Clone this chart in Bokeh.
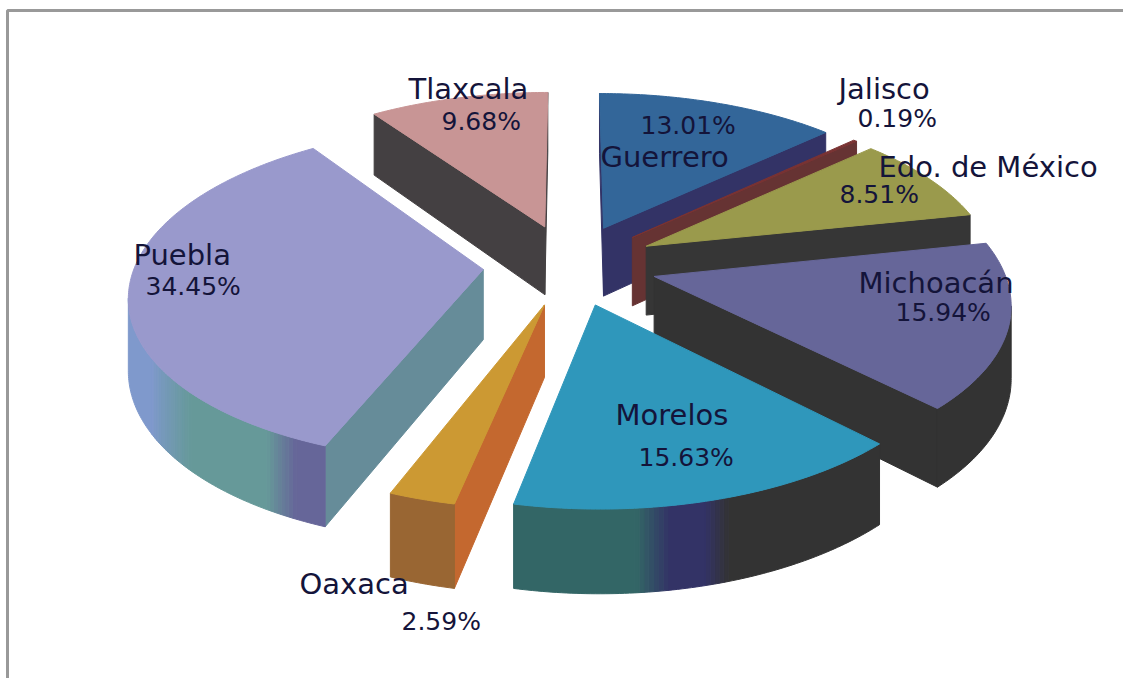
import numpy as np
from bokeh.plotting import figure
from bokeh.models import ColumnDataSource, Range1d
from bokeh.core.properties import value
from bokeh.embed import file_html
from bokeh.resources import INLINE

# ---- data, clockwise from 12 o'clock
categories = ["Guerrero", "Jalisco", "Edo. de México", "Michoacán", "Morelos", "Oaxaca", "Puebla", "Tlaxcala"]
shares = [13.01, 0.19, 8.51, 15.94, 15.63, 2.59, 34.45, 9.68]

# ---- styles
TOP = {"Guerrero": "#336699", "Jalisco": "#7A3333", "Edo. de México": "#9A9A4C", "Michoacán": "#666699",
       "Morelos": "#2F97BB", "Oaxaca": "#CC9933", "Puebla": "#9999CC", "Tlaxcala": "#C89595"}
RADIAL = {"Guerrero": "#333366", "Jalisco": "#663333", "Edo. de México": "#363636", "Michoacán": "#333333",
          "Morelos": "#333333", "Oaxaca": "#C4682F", "Puebla": "#668C99", "Tlaxcala": "#444042"}
# wall colours along the rim, in degrees clockwise from 12 o'clock
WALL = {"Guerrero": [(0, "#333366")], "Jalisco": [(0, "#663333")], "Edo. de México": [(0, "#333333")],
        "Michoacán": [(0, "#333333")],
        "Morelos": [(162, "#333333"), (165.5, "#333366"), (170.5, "#333366"), (175, "#336666")],
        "Oaxaca": [(0, "#996633")],
        "Puebla": [(206, "#666699"), (211, "#669999"), (227, "#669999"), (240, "#7F99CC")],
        "Tlaxcala": [(0, "#444042")]}
DRAW_ORDER = ["Tlaxcala", "Guerrero", "Jalisco", "Edo. de México", "Michoacán", "Puebla", "Oaxaca", "Morelos"]

# ---- projection of the exploded, tilted pie (perspective towards the viewer)
CX, CY, AX, BY, PERSP, EXPLODE, DEPTH = 569.5, 264.0, 348.0, 163.0, 0.14, 0.25, 70.0


def project(px, py, z=0.0):
    w = 1 + PERSP * py
    return CX + AX * px / w, CY + (-BY * py + DEPTH * z) / w


def hex_rgb(c):
    return np.array([int(c[i:i + 2], 16) for i in (1, 3, 5)], float)


def wall_colour(name, deg):
    stops = WALL[name]
    ts = [s[0] for s in stops]
    rgb = np.array([hex_rgb(s[1]) for s in stops])
    c = [int(round(np.interp(deg, ts, rgb[:, i]))) for i in range(3)]
    return "#%02x%02x%02x" % tuple(c)


def area(xs, ys):
    return sum(xs[i] * ys[(i + 1) % len(xs)] - xs[(i + 1) % len(xs)] * ys[i] for i in range(len(xs)))


total = sum(shares)
edges = np.concatenate([[0], np.cumsum(shares)]) / total * 360.0
span = {c: (edges[i], edges[i + 1]) for i, c in enumerate(categories)}

polys_x, polys_y, colours = [], [], []


def add(xs, ys, colour):
    polys_x.append(list(xs))
    polys_y.append(list(ys))
    colours.append(colour)


def quad(a, b):
    t0 = project(*a)
    t1 = project(*b)
    b1 = project(*b, 1)
    b0 = project(*a, 1)
    return [t0[0], t1[0], b1[0], b0[0]], [t0[1], t1[1], b1[1], b0[1]]


for name in DRAW_ORDER:
    a0, a1 = span[name]
    mid = np.radians((a0 + a1) / 2)
    ox, oy = EXPLODE * np.sin(mid), EXPLODE * np.cos(mid)
    degs = np.linspace(a0, a1, max(3, int((a1 - a0) * 1.5) + 2))
    rim = [(ox + np.sin(np.radians(d)), oy + np.cos(np.radians(d))) for d in degs]

    # radial faces
    qx, qy = quad((ox, oy), rim[0])
    if area(qx, qy) < 0:
        add(qx, qy, RADIAL[name])
    qx, qy = quad((ox, oy), rim[-1])
    if area(qx, qy) > 0:
        add(qx, qy, RADIAL[name])

    # rim wall: consecutive visible strips of one colour become one polygon
    run, run_colour = [], None

    def flush():
        if run:
            tops = [project(*r) for r in run]
            bots = [project(*r, 1) for r in reversed(run)]
            add([q[0] for q in tops + bots], [q[1] for q in tops + bots], run_colour)

    for i in range(len(rim) - 1):
        qx, qy = quad(rim[i], rim[i + 1])
        if area(qx, qy) < 0:
            col = wall_colour(name, (degs[i] + degs[i + 1]) / 2)
            if col != run_colour or not run:
                flush()
                run, run_colour = [rim[i]], col
            run.append(rim[i + 1])
        else:
            flush()
            run, run_colour = [], None
    flush()

    # top
    pts = [project(ox, oy)] + [project(*r) for r in rim]
    add([q[0] for q in pts], [q[1] for q in pts], TOP[name])

p = figure(width=1123, height=678, output_backend="svg", toolbar_location=None,
           x_range=Range1d(0, 1123), y_range=Range1d(678, 0), min_border=0,
           outline_line_color=None, background_fill_color="white", border_fill_color="white")
p.axis.visible = False
p.grid.visible = False
p.styles = {"position": "absolute", "left": "0px", "top": "0px"}

# frame of the chart area
p.line([7, 7, 1123], [678, 10, 10], line_color="#999999", line_width=3)

src = ColumnDataSource(dict(xs=polys_x, ys=polys_y, c=colours))
p.patches("xs", "ys", source=src, fill_color="c", line_color="c", line_width=1)

# ---- labels (left edge and vertical middle of each text)
NAME_POS = {"Tlaxcala": (408, 88), "Guerrero": (600, 156), "Jalisco": (838, 88), "Edo. de México": (878, 166),
            "Michoacán": (858, 282), "Puebla": (133, 254), "Morelos": (615, 414), "Oaxaca": (299, 583)}
PCT_POS = {"Tlaxcala": (441, 121), "Guerrero": (640, 125), "Jalisco": (857, 118), "Edo. de México": (839, 194),
           "Michoacán": (895, 312), "Puebla": (145, 286), "Morelos": (638, 457), "Oaxaca": (401, 621)}

p.text([NAME_POS[c][0] for c in categories], [NAME_POS[c][1] for c in categories], text=categories,
       text_font=value("DejaVu Sans"), text_font_size="29px", text_color="#14143a",
       text_align="left", text_baseline="middle")
p.text([PCT_POS[c][0] for c in categories], [PCT_POS[c][1] for c in categories],
       text=["%.2f%%" % s for s in shares],
       text_font=value("DejaVu Sans"), text_font_size="25px", text_color="#14143a",
       text_align="left", text_baseline="middle")

open("out.html", "w").write(file_html(p, INLINE))
